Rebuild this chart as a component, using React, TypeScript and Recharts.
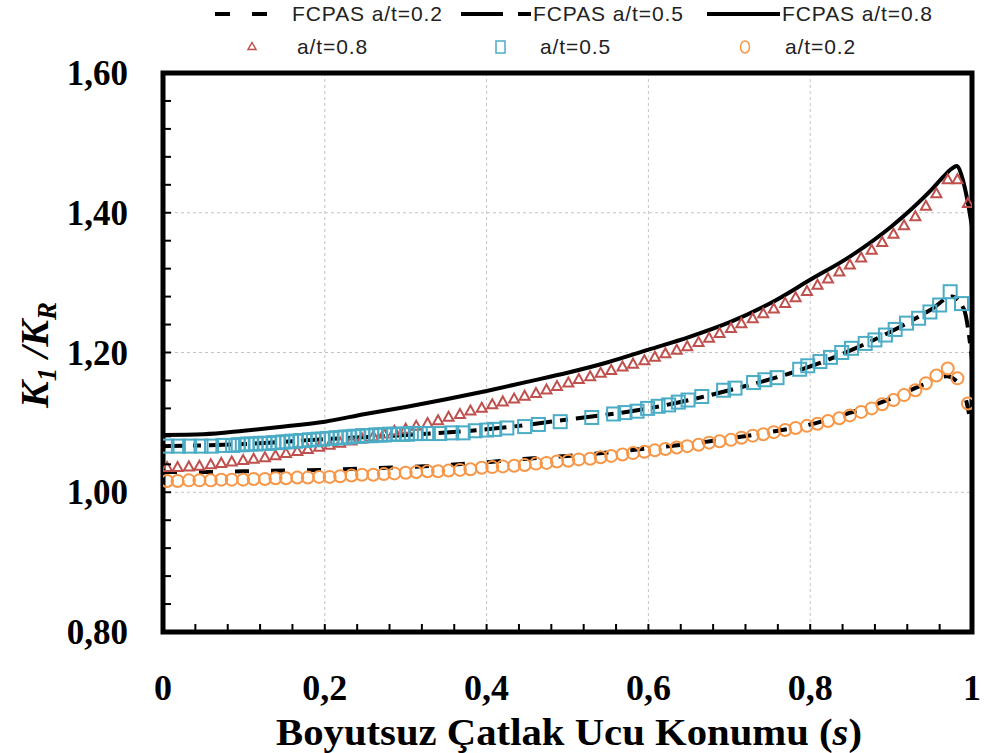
import { ComposedChart, Line, Scatter, XAxis, YAxis, CartesianGrid, ReferenceArea } from 'recharts';

// axis ticks (minor every 0.04, labels on multiples of 0.2)
const xTicks = [0, 0.04, 0.08, 0.12, 0.16, 0.2, 0.24, 0.28, 0.32, 0.36, 0.4, 0.44, 0.48, 0.52, 0.56, 0.6, 0.64, 0.68, 0.72, 0.76, 0.8, 0.84, 0.88, 0.92, 0.96, 1];
const yTicks = [0.8, 0.84, 0.88, 0.92, 0.96, 1, 1.04, 1.08, 1.12, 1.16, 1.2, 1.24, 1.28, 1.32, 1.36, 1.4, 1.44, 1.48, 1.52, 1.56, 1.6];
const xGrid = [0.2, 0.4, 0.6, 0.8];
const yGrid = [1.0, 1.2, 1.4];

// FE points (a/t=0.8 and a/t=0.2 share the same s positions)
const sPts = [0.005, 0.018, 0.032, 0.045, 0.059, 0.072, 0.085, 0.099, 0.112, 0.126, 0.139, 0.152, 0.166, 0.179, 0.193, 0.206, 0.219, 0.233, 0.246, 0.260, 0.273, 0.286, 0.300, 0.313, 0.327, 0.340, 0.353, 0.367, 0.380, 0.394, 0.407, 0.420, 0.434, 0.447, 0.461, 0.474, 0.487, 0.501, 0.514, 0.528, 0.541, 0.554, 0.568, 0.581, 0.595, 0.608, 0.621, 0.635, 0.648, 0.662, 0.675, 0.688, 0.702, 0.715, 0.729, 0.742, 0.755, 0.769, 0.782, 0.796, 0.809, 0.822, 0.836, 0.849, 0.863, 0.876, 0.889, 0.903, 0.916, 0.930, 0.943, 0.956, 0.970, 0.982, 0.995];
const fe08 = [
  1.036, 1.036, 1.037, 1.038, 1.040, 1.042, 1.044, 1.046, 1.048, 1.050,
  1.053, 1.056, 1.059, 1.062, 1.065, 1.068, 1.071, 1.074, 1.077, 1.080,
  1.084, 1.088, 1.091, 1.095, 1.099, 1.103, 1.108, 1.112, 1.117, 1.121,
  1.126, 1.130, 1.134, 1.138, 1.142, 1.147, 1.152, 1.157, 1.162, 1.166,
  1.171, 1.175, 1.180, 1.184, 1.189, 1.194, 1.199, 1.204, 1.209, 1.215,
  1.221, 1.228, 1.235, 1.242, 1.249, 1.256, 1.263, 1.271, 1.279, 1.288,
  1.297, 1.306, 1.316, 1.326, 1.336, 1.347, 1.358, 1.370, 1.382, 1.395,
  1.410, 1.428, 1.448, 1.448, 1.414,
];
const fe02 = [
  1.016, 1.016, 1.017, 1.017, 1.017, 1.018, 1.018, 1.018, 1.019, 1.019,
  1.020, 1.020, 1.021, 1.021, 1.022, 1.022, 1.023, 1.024, 1.025, 1.025,
  1.026, 1.027, 1.028, 1.029, 1.030, 1.030, 1.031, 1.032, 1.033, 1.035,
  1.036, 1.037, 1.038, 1.039, 1.041, 1.042, 1.044, 1.045, 1.047, 1.048,
  1.050, 1.052, 1.054, 1.056, 1.058, 1.060, 1.062, 1.064, 1.066, 1.068,
  1.071, 1.073, 1.075, 1.078, 1.081, 1.083, 1.086, 1.089, 1.092, 1.095,
  1.098, 1.102, 1.106, 1.110, 1.115, 1.120, 1.126, 1.132, 1.139, 1.146,
  1.156, 1.167, 1.177, 1.163, 1.127,
];

// a/t=0.5 FE points (irregular spacing)
const s05 = [
  0.005, 0.019, 0.033, 0.047, 0.060, 0.074, 0.086,
  0.093, 0.098, 0.104, 0.109, 0.115, 0.120, 0.126, 0.131, 0.137, 0.142, 0.148, 0.153, 0.159, 0.164, 0.170, 0.175, 0.181, 0.186, 0.192, 0.197, 0.203, 0.208, 0.214, 0.219, 0.225, 0.230, 0.236, 0.241, 0.247, 0.252, 0.258, 0.263, 0.269, 0.274, 0.280, 0.285, 0.291, 0.296, 0.302, 0.307, 0.313, 0.318,
  0.328, 0.342, 0.357, 0.371, 0.386, 0.400, 0.410, 0.425, 0.447, 0.464, 0.491, 0.530, 0.557, 0.571, 0.586, 0.599, 0.612, 0.625, 0.637, 0.649, 0.666, 0.693, 0.707, 0.730, 0.744, 0.759, 0.787, 0.797, 0.812, 0.825, 0.839, 0.851, 0.868, 0.880, 0.893, 0.905, 0.919, 0.934, 0.948, 0.960, 0.973, 0.987,
];
const fe05 = [
  1.066, 1.066, 1.066, 1.066, 1.066, 1.067, 1.067,
  1.068, 1.068, 1.069, 1.069, 1.069, 1.070, 1.070, 1.070, 1.071, 1.071, 1.072, 1.072, 1.073, 1.073, 1.074, 1.074, 1.075, 1.075, 1.076, 1.076, 1.077, 1.077, 1.078, 1.078, 1.079, 1.079, 1.080, 1.080, 1.081, 1.081, 1.081, 1.082, 1.082, 1.082, 1.083, 1.083, 1.083, 1.083, 1.083, 1.084, 1.084, 1.084,
  1.084, 1.084, 1.085, 1.085, 1.088, 1.089, 1.090, 1.092, 1.094, 1.097, 1.101, 1.107, 1.112, 1.114, 1.116, 1.120, 1.123, 1.125, 1.129, 1.132, 1.137, 1.146, 1.149, 1.157, 1.161, 1.164, 1.176, 1.181, 1.187, 1.193, 1.200, 1.206, 1.213, 1.218, 1.225, 1.233, 1.242, 1.249, 1.258, 1.268, 1.287, 1.270,
];

// FCPAS curves
const fc08S = [0, 0.05, 0.1, 0.15, 0.2, 0.25, 0.3, 0.35, 0.4, 0.45, 0.5, 0.55, 0.6, 0.65, 0.7, 0.75, 0.8, 0.85, 0.9, 0.925, 0.95, 0.965, 0.975, 0.981, 0.988, 0.994, 1];
const fc08V = [1.082, 1.083, 1.088, 1.094, 1.101, 1.112, 1.122, 1.133, 1.145, 1.158, 1.171, 1.186, 1.204, 1.222, 1.243, 1.270, 1.304, 1.338, 1.380, 1.405, 1.433, 1.452, 1.463, 1.467, 1.450, 1.420, 1.380];
const fc05S = [0, 0.1, 0.2, 0.3, 0.4, 0.5, 0.6, 0.7, 0.8, 0.85, 0.9, 0.95, 0.975, 0.99, 1];
const fc05V = [1.066, 1.069, 1.076, 1.082, 1.090, 1.104, 1.120, 1.146, 1.180, 1.203, 1.230, 1.262, 1.280, 1.262, 1.19];
const fc02S = [0, 0.05, 0.1, 0.15, 0.2, 0.25, 0.3, 0.35, 0.4, 0.45, 0.5, 0.55, 0.6, 0.65, 0.7, 0.75, 0.8, 0.85, 0.9, 0.94, 0.969, 0.98, 0.99, 1];
const fc02V = [1.029, 1.029, 1.030, 1.031, 1.032, 1.034, 1.036, 1.039, 1.043, 1.048, 1.052, 1.057, 1.063, 1.069, 1.077, 1.086, 1.097, 1.114, 1.134, 1.154, 1.166, 1.160, 1.143, 1.09];

const RED = '#C0504D';
const TEAL = '#4BACC6';
const ORANGE = '#F79646';
const SERIF = '"Liberation Serif", "Times New Roman", serif';
const SANS = '"Liberation Sans", Arial, sans-serif';

const pairs = (s: number[], v: number[]) => s.map((x, i) => ({ s: x, v: v[i] }));

const isMajor = (v: number) => Math.abs(v * 5 - Math.round(v * 5)) < 1e-6;
const fmtX = (v: number) => (v === 0 || v === 1 ? String(v) : v.toFixed(1).replace('.', ','));
const fmtY = (v: number) => v.toFixed(2).replace('.', ',');

const XTick = (props: any) => {
  const { x, y, payload } = props;
  const v = payload.value;
  return (
    <g>
      <line x1={x} y1={y} x2={x} y2={y - 8} stroke="#000" strokeWidth={2} />
      {isMajor(v) && (
        <text x={x} y={y + 68} textAnchor="middle" fontFamily={SERIF} fontWeight="bold" fontSize={36} fill="#000">
          {fmtX(v)}
        </text>
      )}
    </g>
  );
};

const YTick = (props: any) => {
  const { x, y, payload } = props;
  const v = payload.value;
  return (
    <g>
      <line x1={x} y1={y} x2={x + 8} y2={y} stroke="#000" strokeWidth={2} />
      {isMajor(v) && (
        <text x={x - 35} y={y + 12} textAnchor="end" fontFamily={SERIF} fontWeight="bold" fontSize={35} fill="#000">
          {fmtY(v)}
        </text>
      )}
    </g>
  );
};

const Tri = (p: any) => (
  <path d={`M${p.cx},${p.cy - 5} L${p.cx + 5},${p.cy + 4} L${p.cx - 5},${p.cy + 4} Z`} fill="none" stroke={RED} strokeWidth={2} />
);
const Sq = (p: any) => (
  <rect x={p.cx - 6.5} y={p.cy - 6.5} width={13} height={13} fill="none" stroke={TEAL} strokeWidth={2} />
);
const Circ = (p: any) => <circle cx={p.cx} cy={p.cy} r={6} fill="none" stroke={ORANGE} strokeWidth={2} />;

const legendText: React.CSSProperties = { position: 'absolute', fontFamily: SANS, fontSize: 21, letterSpacing: '0.9px', color: '#222', lineHeight: '24px' };

export default function App() {
  return (
    <div style={{ position: 'relative', width: 984, height: 753, background: '#fff' }}>
      <style>{'body{margin:0}'}</style>
      <ComposedChart width={984} height={753} margin={{ top: 73, right: 12, bottom: 0, left: 13 }}>
        <CartesianGrid stroke="#c4c4c4" strokeDasharray="3 3" verticalValues={xGrid} horizontalValues={yGrid} />
        <XAxis
          dataKey="s"
          type="number"
          domain={[0, 1]}
          ticks={xTicks}
          interval={0}
          height={121}
          axisLine={false}
          tickLine={false}
          tickSize={0}
          tickMargin={0}
          tick={<XTick />}
          allowDataOverflow
        />
        <YAxis
          dataKey="v"
          type="number"
          domain={[0.8, 1.6]}
          ticks={yTicks}
          interval={0}
          width={150}
          axisLine={false}
          tickLine={false}
          tickSize={0}
          tickMargin={0}
          tick={<YTick />}
          allowDataOverflow
        />
        <Line data={pairs(fc02S, fc02V)} dataKey="v" type="monotone" stroke="#000" strokeWidth={4} strokeDasharray="14 22" dot={false} isAnimationActive={false} />
        <Line data={pairs(fc05S, fc05V)} dataKey="v" type="monotone" stroke="#000" strokeWidth={4} strokeDasharray="22 8 8 8" dot={false} isAnimationActive={false} />
        <Line data={pairs(fc08S, fc08V)} dataKey="v" type="monotone" stroke="#000" strokeWidth={4} dot={false} isAnimationActive={false} />
        <Scatter data={pairs(sPts, fe08)} dataKey="v" shape={Tri} isAnimationActive={false} />
        <Scatter data={pairs(s05, fe05)} dataKey="v" shape={Sq} isAnimationActive={false} />
        <Scatter data={pairs(sPts, fe02)} dataKey="v" shape={Circ} isAnimationActive={false} />
        <ReferenceArea x1={0} x2={1} y1={0.8} y2={1.6} fill="none" stroke="#000" strokeWidth={5} ifOverflow="visible" />
      </ComposedChart>

      {/* legend */}
      <svg width={984} height={70} style={{ position: 'absolute', left: 0, top: 0, pointerEvents: 'none' }}>
        <line x1={215} y1={14} x2={270} y2={14} stroke="#000" strokeWidth={4} strokeDasharray="15 22" />
        <line x1={461} y1={14} x2={531} y2={14} stroke="#000" strokeWidth={4} strokeDasharray="42 15 13 15" />
        <line x1={707} y1={14} x2={780} y2={14} stroke="#000" strokeWidth={4} />
        <path d="M252,42.5 L256,49.5 L248,49.5 Z" fill="none" stroke={RED} strokeWidth={1.5} />
        <rect x={496} y={41} width={9} height={12} fill="none" stroke={TEAL} strokeWidth={1.5} />
        <ellipse cx={745} cy={47} rx={4.5} ry={6} fill="none" stroke={ORANGE} strokeWidth={1.5} />
      </svg>
      <div style={{ ...legendText, left: 292, top: 2 }}>FCPAS a/t=0.2</div>
      <div style={{ ...legendText, left: 533, top: 2 }}>FCPAS a/t=0.5</div>
      <div style={{ ...legendText, left: 782, top: 2 }}>FCPAS a/t=0.8</div>
      <div style={{ ...legendText, left: 297, top: 35 }}>a/t=0.8</div>
      <div style={{ ...legendText, left: 540, top: 35 }}>a/t=0.5</div>
      <div style={{ ...legendText, left: 785, top: 35 }}>a/t=0.2</div>

      {/* axis titles */}
      <svg width={984} height={753} style={{ position: 'absolute', left: 0, top: 0, pointerEvents: 'none' }}>
        <text transform="translate(48,355) rotate(-90)" textAnchor="middle" fontFamily={SERIF} fontWeight="bold" fontStyle="italic" fontSize={40} fill="#000">
          K<tspan fontSize={27} dy={8}>1</tspan>
          <tspan dy={-8}> /K</tspan>
          <tspan fontSize={27} dy={8}>R</tspan>
        </text>
        <text x={276} y={745} textLength={586} lengthAdjust="spacingAndGlyphs" fontFamily={SERIF} fontWeight="bold" fontSize={38} fill="#000">
          Boyutsuz Çatlak Ucu Konumu (<tspan fontStyle="italic">s</tspan>)
        </text>
      </svg>
    </div>
  );
}
